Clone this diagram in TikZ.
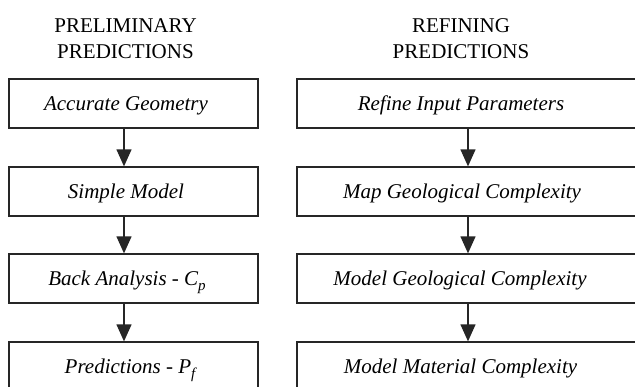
\documentclass[tikz,border=0pt]{standalone}
\usepackage{fontspec}
\setmainfont{Liberation Serif}
\usetikzlibrary{arrows.meta}
\newcommand{\mysub}[1]{\raisebox{-5pt}{\fontsize{15}{15}\selectfont #1}}
\begin{document}
\begin{tikzpicture}[x=1pt,y=-1pt,
  box/.style={draw=black!85,line width=1.3pt,rectangle,inner sep=0pt,minimum height=49pt},
  lbox/.style={box,minimum width=249pt},
  rbox/.style={box,minimum width=342pt},
  txt/.style={anchor=base,inner sep=0pt,font=\fontsize{21}{26}\selectfont\itshape},
  ttl/.style={align=center,inner sep=0pt,font=\fontsize{21}{26}\selectfont},
  arr/.style={line width=1.3pt,draw=black!85,-{Triangle[length=17pt,width=15pt]}}]
\clip (0,0) rectangle (635,386);
\fill[white] (0,0) rectangle (635,386);
% titles
\node[ttl] (t1) at (125.5,39) {PRELIMINARY\\PREDICTIONS};
\node[ttl] (t2) at (461,39) {REFINING\\PREDICTIONS};
% left boxes
\node[lbox] (a1) at (133.5,103.5) {};
\node[lbox] (a2) at (133.5,191.5) {};
\node[lbox] (a3) at (133.5,278.5) {};
\node[lbox] (a4) at (133.5,366.5) {};
\node[txt] (la1) at (126,110.5) {Accurate Geometry};
\node[txt] (la2) at (126,198.5) {Simple Model};
\node[txt] (la3) at (127,285.5) {Back Analysis - C\mysub{p}};
\node[txt] (la4) at (130,373.5) {Predictions - P\mysub{f}};
% right boxes
\node[rbox] (b1) at (468,103.5) {};
\node[rbox] (b2) at (468,191.5) {};
\node[rbox] (b3) at (468,278.5) {};
\node[rbox] (b4) at (468,366.5) {};
\node[txt] (lb1) at (461,110.5) {Refine Input Parameters};
\node[txt] (lb2) at (462,198.5) {Map Geological Complexity};
\node[txt] (lb3) at (460,285.5) {Model Geological Complexity};
\node[txt] (lb4) at (460.5,373.5) {Model Material Complexity};
% arrows
\foreach \i/\j in {1/2,2/3,3/4}{
  \draw[arr] ([xshift=-9.5pt]a\i.south) -- ([xshift=-9.5pt]a\j.north);
  \draw[arr] (b\i.south) -- (b\j.north);
}
\end{tikzpicture}
\end{document}
